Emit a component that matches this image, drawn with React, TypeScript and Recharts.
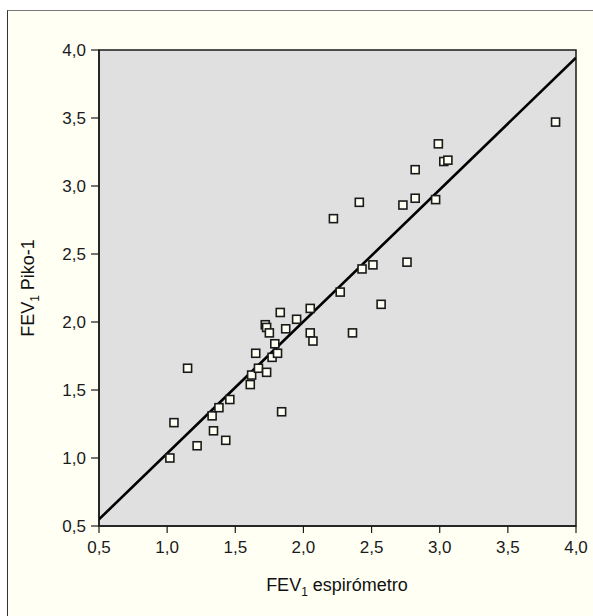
import { ScatterChart, Scatter, XAxis, YAxis, ReferenceArea, Label } from "recharts";

// FEV1 measured with spirometer (x) vs. Piko-1 (y)
const espirometro = [
  1.02, 1.05, 1.15, 1.22, 1.33, 1.34, 1.38, 1.43, 1.46, 1.61, 1.62, 1.65, 1.67, 1.72, 1.73,
  1.75, 1.73, 1.77, 1.79, 1.81, 1.83, 1.84, 1.87, 1.95, 2.05, 2.05, 2.07, 2.22, 2.27, 2.36,
  2.41, 2.43, 2.51, 2.57, 2.76, 2.73, 2.82, 2.82, 2.97, 2.99, 3.03, 3.06, 3.85,
];
const piko = [
  1.0, 1.26, 1.66, 1.09, 1.31, 1.2, 1.37, 1.13, 1.43, 1.54, 1.61, 1.77, 1.66, 1.98, 1.96,
  1.92, 1.63, 1.74, 1.84, 1.77, 2.07, 1.34, 1.95, 2.02, 2.1, 1.92, 1.86, 2.76, 2.22, 1.92,
  2.88, 2.39, 2.42, 2.13, 2.44, 2.86, 3.12, 2.91, 2.9, 3.31, 3.18, 3.19, 3.47,
];
// regression line end points
const fitX = [0.5, 4.0];
const fitY = [0.549, 3.943];
const ticks = [0.5, 1.0, 1.5, 2.0, 2.5, 3.0, 3.5, 4.0];

const points = espirometro.map((x, i) => ({ x, y: piko[i] }));
const fit = fitX.map((x, i) => ({ x, y: fitY[i] }));

const font = "'Liberation Sans', Arial, sans-serif";
const fmt = (v: number) => v.toFixed(1).replace(".", ",");

const Square = (props: any) => {
  const { cx, cy } = props;
  if (cx == null || cy == null) return null;
  return <rect x={cx - 4} y={cy - 4} width={8} height={8} fill="#fffff3" stroke="#1a1a1a" strokeWidth={1.6} />;
};

const XTitle = () => (
  <text x={337} y={591} textAnchor="middle" fontFamily={font} fontSize={18} fill="#111">
    FEV
    <tspan fontSize={12} dy={5}>1</tspan>
    <tspan dy={-5}> espirómetro</tspan>
  </text>
);

const YTitle = () => (
  <text x={34} y={288} transform="rotate(-90 34 288)" textAnchor="middle" fontFamily={font} fontSize={18} fill="#111">
    FEV
    <tspan fontSize={12} dy={5}>1</tspan>
    <tspan dy={-5}> Piko-1</tspan>
  </text>
);

const axisLine = { stroke: "#1a1a1a", strokeWidth: 1.5 };
const tickLine = { stroke: "#1a1a1a", strokeWidth: 1.2 };
const tickStyle = { fill: "#1a1a1a", fontSize: 17, fontFamily: font };

export default function App() {
  return (
    <div style={{ position: "absolute", left: 0, top: 0, width: 593, height: 616, background: "#fff", overflow: "hidden" }}>
      <div
        style={{
          position: "absolute",
          left: 7,
          top: 10,
          width: 600,
          height: 620,
          background: "#fffff4",
          borderTop: "1px solid #777",
          borderLeft: "1px solid #333",
        }}
      />
      <div style={{ position: "absolute", left: 0, top: 0 }}>
        <ScatterChart width={593} height={616} margin={{ top: 50, right: 17, bottom: 50, left: 39 }}>
          <ReferenceArea x1={0.5} x2={4} y1={0.5} y2={4} fill="#e0e0e0" fillOpacity={1} stroke="#1a1a1a" strokeWidth={1.5} />
          <XAxis
            type="number"
            dataKey="x"
            domain={[0.5, 4]}
            ticks={ticks}
            tickFormatter={fmt}
            height={40}
            tickSize={7}
            tickMargin={8}
            axisLine={axisLine}
            tickLine={tickLine}
            tick={tickStyle}
            allowDataOverflow
          >
            <Label content={<XTitle />} />
          </XAxis>
          <YAxis
            type="number"
            dataKey="y"
            domain={[0.5, 4]}
            ticks={ticks}
            tickFormatter={fmt}
            width={60}
            tickSize={8}
            tickMargin={5}
            axisLine={axisLine}
            tickLine={tickLine}
            tick={tickStyle}
            allowDataOverflow
          >
            <Label content={<YTitle />} />
          </YAxis>
          <Scatter data={fit} line={{ stroke: "#000", strokeWidth: 2.6 }} shape={() => null} isAnimationActive={false} />
          <Scatter data={points} shape={<Square />} isAnimationActive={false} />
        </ScatterChart>
      </div>
    </div>
  );
}
